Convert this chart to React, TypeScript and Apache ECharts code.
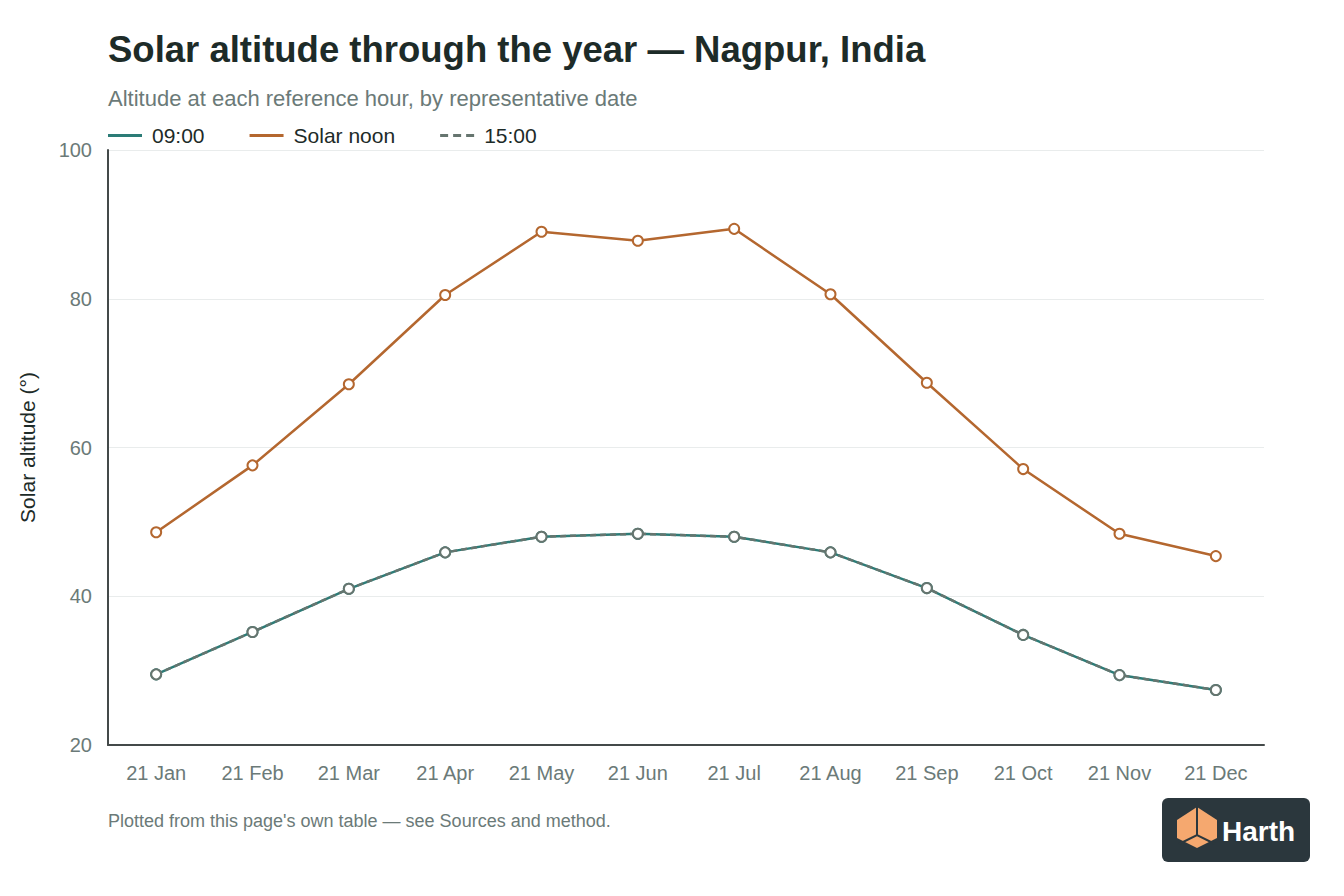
import { useEffect, useRef } from 'react'
import * as echarts from 'echarts'

const months = ['21 Jan', '21 Feb', '21 Mar', '21 Apr', '21 May', '21 Jun', '21 Jul', '21 Aug', '21 Sep', '21 Oct', '21 Nov', '21 Dec']
const morning = [29.5, 35.2, 41.0, 45.9, 48.0, 48.4, 48.0, 45.9, 41.1, 34.8, 29.4, 27.4]
const noon = [48.6, 57.6, 68.5, 80.5, 89.0, 87.8, 89.4, 80.6, 68.7, 57.1, 48.4, 45.4]
const afternoon = [29.5, 35.2, 41.0, 45.9, 48.0, 48.4, 48.0, 45.9, 41.1, 34.8, 29.4, 27.4]

const FONT = '"Liberation Sans", Arial, Helvetica, sans-serif'
const TEAL = '#2c7c77'
const ORANGE = '#b4672f'
const GREY = '#66756f'
const MUTED = '#6b7a78'

export default function App() {
  const elRef = useRef<HTMLDivElement>(null)

  useEffect(() => {
    document.body.style.margin = '0'
    if (!elRef.current) return
    const chart = echarts.init(elRef.current, null, { renderer: 'svg' })

    const pointSeries = (name: string, data: number[], color: string, dashed: boolean, z: number) => ({
      name,
      type: 'line',
      data,
      z,
      symbol: 'circle',
      symbolSize: 10,
      showSymbol: true,
      lineStyle: { color, width: 2.5, type: dashed ? [6, 4] : 'solid' },
      itemStyle: { color: '#ffffff', borderColor: color, borderWidth: 2 },
      emphasis: { disabled: true },
    })

    chart.setOption({
      animation: false,
      textStyle: { fontFamily: FONT },
      title: [
        {
          text: 'Solar altitude through the year — Nagpur, India',
          left: 103,
          top: 26,
          textStyle: { fontSize: 36.5, fontWeight: 'bold', color: '#1d2b28', fontFamily: FONT },
        },
        {
          text: 'Altitude at each reference hour, by representative date',
          left: 103,
          top: 82,
          textStyle: { fontSize: 22, fontWeight: 'normal', color: MUTED, fontFamily: FONT },
        },
      ],
      legend: {
        left: 103,
        top: 120,
        itemWidth: 34,
        itemHeight: 3,
        itemGap: 45,
        textStyle: { fontSize: 21, color: '#1d2b28', fontFamily: FONT, padding: [0, 0, 0, 5] },
        data: [
          { name: '09:00', icon: 'path://M0,0h34v3h-34z', itemStyle: { color: TEAL, borderWidth: 0 } },
          { name: 'Solar noon', icon: 'path://M0,0h34v3h-34z', itemStyle: { color: ORANGE, borderWidth: 0 } },
          {
            name: '15:00',
            icon: 'path://M0,0h8v3h-8z M13,0h8v3h-8z M26,0h8v3h-8z',
            itemStyle: { color: GREY, borderWidth: 0 },
          },
        ],
      },
      grid: { left: 108, right: 80, top: 150, bottom: 151 },
      xAxis: {
        type: 'category',
        data: months,
        boundaryGap: true,
        axisLine: { show: true, lineStyle: { color: '#444a4a', width: 2 } },
        axisTick: { show: false },
        axisLabel: { color: MUTED, fontSize: 20, margin: 18, fontFamily: FONT },
      },
      yAxis: {
        type: 'value',
        min: 20,
        max: 100,
        interval: 20,
        name: 'Solar altitude (°)',
        nameLocation: 'middle',
        nameGap: 70,
        nameTextStyle: { color: '#1d2b28', fontSize: 21, fontFamily: FONT },
        axisLine: { show: true, lineStyle: { color: '#444a4a', width: 2 } },
        axisTick: { show: false },
        axisLabel: { color: MUTED, fontSize: 20, margin: 16, fontFamily: FONT },
        splitLine: { lineStyle: { color: '#e9ecec', width: 1 } },
      },
      series: [
        pointSeries('09:00', morning, TEAL, false, 2),
        pointSeries('Solar noon', noon, ORANGE, false, 3),
        pointSeries('15:00', afternoon, GREY, true, 4),
      ],
      graphic: [
        {
          type: 'text',
          left: 108,
          top: 812,
          style: {
            text: "Plotted from this page's own table — see Sources and method.",
            fill: MUTED,
            fontSize: 18,
            fontFamily: FONT,
          },
        },
        {
          type: 'group',
          left: 1162,
          top: 798,
          children: [
            {
              type: 'rect',
              shape: { x: 0, y: 0, width: 148, height: 64, r: 6 },
              style: { fill: '#2b373d' },
            },
            {
              type: 'polygon',
              shape: { points: [[35, 9], [15, 22], [15, 40], [35, 50], [55, 40], [55, 22]] },
              style: { fill: '#f5a86f' },
            },
            {
              type: 'polyline',
              shape: { points: [[35, 9], [35, 37]] },
              style: { stroke: '#2b373d', lineWidth: 2, fill: 'none' },
            },
            {
              type: 'polyline',
              shape: { points: [[17, 46], [35, 37], [53, 46]] },
              style: { stroke: '#2b373d', lineWidth: 2, fill: 'none' },
            },
            {
              type: 'text',
              x: 60,
              y: 33,
              style: {
                text: 'Harth',
                fill: '#ffffff',
                fontSize: 28,
                fontWeight: 'bold',
                fontFamily: FONT,
                textVerticalAlign: 'middle',
              },
            },
          ],
        },
      ],
    })

    return () => {
      chart.dispose()
    }
  }, [])

  return <div ref={elRef} style={{ width: 1344, height: 896 }} />
}
